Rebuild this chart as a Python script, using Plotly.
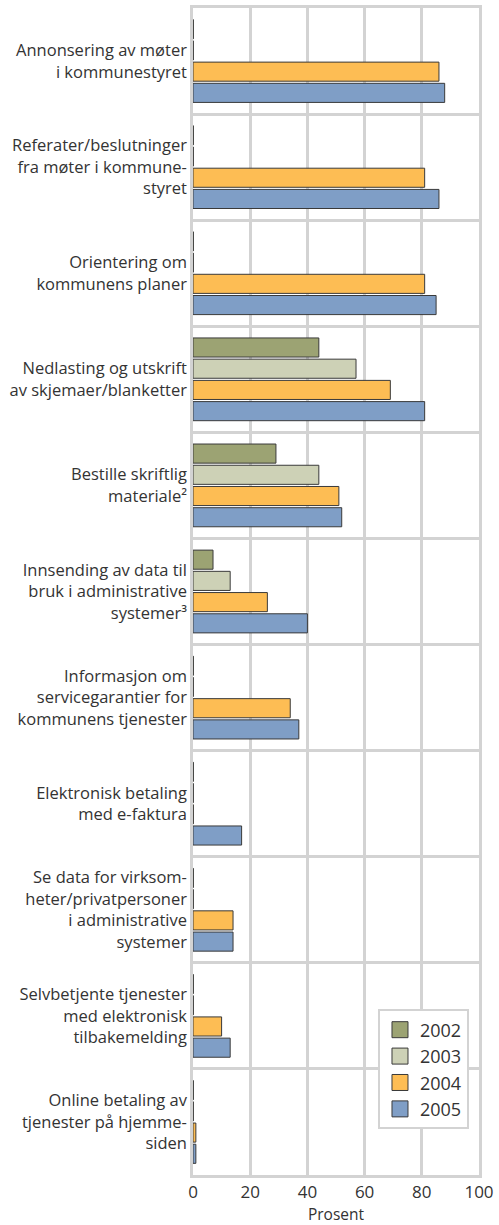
import plotly.graph_objects as go

categories = [
    "Annonsering av møter<br>i kommunestyret",
    "Referater/beslutninger<br>fra møter i kommune-<br>styret",
    "Orientering om<br>kommunens planer",
    "Nedlasting og utskrift<br>av skjemaer/blanketter",
    "Bestille skriftlig<br>materiale²",
    "Innsending av data til<br>bruk i administrative<br>systemer³",
    "Informasjon om<br>servicegarantier for<br>kommunens tjenester",
    "Elektronisk betaling<br>med e-faktura",
    "Se data for virksom-<br>heter/privatpersoner<br>i administrative<br>systemer",
    "Selvbetjente tjenester<br>med elektronisk<br>tilbakemelding",
    "Online betaling av<br>tjenester på hjemme-<br>siden",
]

years = ["2002", "2003", "2004", "2005"]
v2002 = [0, 0, 0, 44, 29, 7, 0, 0, 0, 0, 0]
v2003 = [0, 0, 0, 57, 44, 13, 0, 0, 0, 0, 0]
v2004 = [86, 81, 81, 69, 51, 26, 34, 0, 14, 10, 1]
v2005 = [88, 86, 85, 81, 52, 40, 37, 17, 14, 13, 1]
series = [v2002, v2003, v2004, v2005]
colors = ["#9ca373", "#cdd1b6", "#fdbd54", "#7f9ec6"]

grid = "#d3d3d3"
fig = go.Figure()
for name, vals, col in zip(years, series, colors):
    # zero values are drawn as a thin line on the axis, as in the original
    shown = [v if v > 0 else 0.12 for v in vals]
    fig.add_trace(go.Bar(
        y=categories, x=shown, orientation="h", name=name,
        marker=dict(color=col, line=dict(color="#3a3a3a", width=1)),
        showlegend=False, hoverinfo="skip",
    ))
for name, col in zip(years, colors):
    fig.add_trace(go.Scatter(
        x=[None], y=[None], mode="markers", name=name,
        marker=dict(symbol="square", size=16, color=col,
                    line=dict(color="#3a3a3a", width=1)),
    ))

fig.update_layout(
    width=499, height=1225,
    margin=dict(l=193, r=17, t=5, b=50),
    paper_bgcolor="white", plot_bgcolor="white",
    barmode="group", bargap=0.2, bargroupgap=0.1,
    font=dict(family="Open Sans", size=16.5, color="#333333"),
    legend=dict(
        x=0.965, y=0.039, xanchor="right", yanchor="bottom",
        bgcolor="white", bordercolor=grid, borderwidth=2,
        font=dict(size=18, color="#333333"),
        itemsizing="trace", tracegroupgap=0,
    ),
    xaxis=dict(
        range=[0, 100], tickvals=[0, 20, 40, 60, 80, 100],
        showgrid=True, gridcolor=grid, gridwidth=2.5,
        showline=True, linecolor=grid, linewidth=2.5, mirror=True,
        zeroline=False, ticks="",
        title=dict(text="Prosent", standoff=2, font=dict(size=15.5)),
        tickfont=dict(size=17),
    ),
    yaxis=dict(
        autorange="reversed", tickson="boundaries",
        showgrid=True, gridcolor=grid, gridwidth=2.5,
        showline=True, linecolor=grid, linewidth=2.5, mirror=True,
        ticks="", ticklen=0, tickfont=dict(size=16.5),
    ),
)

fig.write_html("out.html", config={"displayModeBar": False},
               post_script="document.body.style.margin='0';")
